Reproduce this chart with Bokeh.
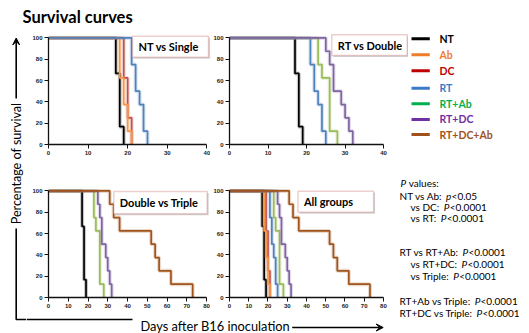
import math
import os
import subprocess
from bokeh.plotting import figure
from bokeh.models import Range1d, BoxAnnotation, Label, FixedTicker, Arrow, VeeHead
from bokeh.layouts import row, column
from bokeh.core.properties import value
from bokeh.embed import file_html
from bokeh.resources import INLINE

# ------------------------------------------------------------------ data
groups = ["NT", "Ab", "DC", "RT", "RT+Ab", "RT+DC", "RT+DC+Ab"]
nt_days = [0, 17, 18, 19]
nt_surv = [100, 66.7, 16.7, 0]
ab_days = [0, 18, 19, 20, 21]
ab_surv = [100, 62.5, 37.5, 12.5, 0]
dc_days = [0, 19, 20, 21]
dc_surv = [100, 62.5, 25, 0]
rt_days = [0, 21, 22, 23, 24, 25]
rt_surv = [100, 75, 50, 37.5, 12.5, 0]
rtab_days = [0, 23, 24, 26, 28]
rtab_surv = [100, 75, 62.5, 12.5, 0]
rtdc_days = [0, 25, 26, 27, 29, 30, 31, 32]
rtdc_surv = [100, 87.5, 75, 50, 37.5, 25, 12.5, 0]
triple_days = [0, 31, 33, 36, 52, 54, 56, 62, 73]
triple_surv = [100, 87.5, 75, 62.5, 50, 37.5, 25, 12.5, 0]

panel_titles = ["NT vs Single", "RT vs Double", "Double vs Triple", "All groups"]
panel_members = [["NT", "DC", "Ab", "RT"],
                 ["NT", "RT", "RT+Ab", "RT+DC"],
                 ["NT", "RT+Ab", "RT+DC", "RT+DC+Ab"],
                 ["NT", "DC", "Ab", "RT", "RT+Ab", "RT+DC", "RT+DC+Ab"]]
y_ticks = [0, 20, 40, 60, 80, 100]
x_ticks_40 = [0, 10, 20, 30, 40]
x_ticks_80 = [0, 10, 20, 30, 40, 50, 60, 70, 80]

title_text = "Survival curves"
y_title = "Percentage of survival"
x_title = "Days after B16 inoculation"
pv_header = "values:"
pv_prefix = ["NT vs Ab:", "vs DC:", "vs RT:", "RT vs RT+Ab:", "vs RT+DC:",
             "vs Triple:", "RT+Ab vs Triple:", "RT+DC vs Triple:"]
pv_symbol = ["p", "P", "P", "P", "P", "P", "P", "P"]
pv_value = ["<0.05", "<0.0001", "<0.0001", "<0.0001", "<0.0001",
            "<0.0001", "<0.0001", "<0.0001"]

curves = {"NT": (nt_days, nt_surv), "Ab": (ab_days, ab_surv), "DC": (dc_days, dc_surv),
          "RT": (rt_days, rt_surv), "RT+Ab": (rtab_days, rtab_surv),
          "RT+DC": (rtdc_days, rtdc_surv), "RT+DC+Ab": (triple_days, triple_surv)}

# ------------------------------------------------------------------ styles
line_col = {"NT": "#000000", "Ab": "#F79646", "DC": "#C0504D", "RT": "#4F81BD",
            "RT+Ab": "#9BBB59", "RT+DC": "#8064A2", "RT+DC+Ab": "#A0541C"}
legend_col = {"NT": "#000000", "Ab": "#EE7D2B", "DC": "#C00000", "RT": "#3A7BC8",
              "RT+Ab": "#00B050", "RT+DC": "#7030A0", "RT+DC+Ab": "#A0521C"}
FONT = "Lato"
TICK_FONT = "Liberation Sans"
BOX_LINE = "#C25F5C"

YPPU = 1.066  # px per percent

# layout (px)
TOP_H = 30
LEFT_W = 26
ROW1_H = 138
ROW2_H = 143
BOTTOM_H = 22
P1_W, P2_W, LEG_W = 184, 198, 121
P3_W, P4_W, PV_W = 184, 186, 133
TOTAL_W = LEFT_W + P1_W + P2_W + LEG_W
MID_H = ROW1_H + ROW2_H + BOTTOM_H


# ---- text width measurement (for placing the italic P after each prefix)
def _font_file(family, style):
    try:
        out = subprocess.run(["fc-match", "-f", "%{file}", f"{family}:style={style}"],
                             capture_output=True, text=True, timeout=5).stdout.strip()
        if out and os.path.exists(out):
            return out
    except Exception:
        pass
    return None


def make_measure(family, style, size, fallback_em):
    try:
        from PIL import ImageFont
        path = _font_file(family, style)
        if path:
            f = ImageFont.truetype(path, 100)
            return lambda s: f.getlength(s) * size / 100.0
    except Exception:
        pass
    return lambda s: len(s) * fallback_em * size


def deco_fig(w, h):
    f = figure(width=w, height=h, x_range=Range1d(0, w), y_range=Range1d(h, 0),
               x_axis_type=None, y_axis_type=None, output_backend="svg",
               toolbar_location=None, min_border=0)
    f.min_border_left = 0
    f.min_border_right = 0
    f.min_border_top = 0
    f.min_border_bottom = 0
    f.outline_line_color = None
    f.background_fill_color = None
    f.border_fill_color = None
    return f


def panel_fig(idx, w, h, bl, bb, xppu, xmax, xticks, origin_s, box_s):
    fw, fh = w - bl, h - bb
    p = figure(width=w, height=h, x_range=Range1d(0, fw / xppu), y_range=Range1d(0, fh / YPPU),
               output_backend="svg", toolbar_location=None,
               min_border_left=bl, min_border_right=0, min_border_top=0, min_border_bottom=bb)
    p.outline_line_color = None
    p.background_fill_color = None
    p.border_fill_color = None
    p.grid.visible = False
    p.xaxis.ticker = FixedTicker(ticks=xticks)
    p.yaxis.ticker = FixedTicker(ticks=y_ticks)
    p.xaxis.bounds = (0, xmax)
    p.yaxis.bounds = (0, 100)
    for ax in (p.xaxis[0], p.yaxis[0]):
        ax.axis_line_color = "#111111"
        ax.axis_line_width = 1.3
        ax.major_tick_line_color = "#111111"
        ax.major_tick_line_width = 1
        ax.major_tick_out = 4
        ax.major_tick_in = 0
        ax.minor_tick_line_color = None
        ax.major_label_text_font = TICK_FONT
        ax.major_label_text_font_size = "6px"
        ax.major_label_text_font_style = "bold"
        ax.major_label_text_color = "#222222"
        ax.major_label_standoff = 2
    for g in panel_members[idx]:
        d, s = curves[g]
        p.step(d, s, mode="after", line_color=line_col[g], line_width=4, line_alpha=0.22)
        p.step(d, s, mode="after", line_color=line_col[g], line_width=1.7)
    # label box (reference pixels -> data)
    ox, oy = origin_s
    l, r, t, b = box_s
    to_x = lambda sx: (sx - ox) / xppu
    to_y = lambda sy: (oy - sy) / YPPU
    p.add_layout(BoxAnnotation(left=to_x(l + 1.5), right=to_x(r + 1.5), top=to_y(t + 1.5),
                               bottom=to_y(b + 1.5), fill_color="#888888", fill_alpha=0.35,
                               line_color=None))
    p.add_layout(BoxAnnotation(left=to_x(l), right=to_x(r), top=to_y(t), bottom=to_y(b),
                               fill_color="white", fill_alpha=1, line_color=BOX_LINE,
                               line_width=1.5))
    p.add_layout(Label(x=to_x(l), y=to_y((t + b) / 2), x_offset=6, text=panel_titles[idx],
                       text_font=FONT, text_font_style="bold", text_font_size="11px",
                       text_baseline="middle", text_align="left", text_color="black"))
    return p


p1 = panel_fig(0, P1_W, ROW1_H, 22, 24, 3.96, 40, x_ticks_40, (48, 144), (132, 208, 35.7, 56.7))
p2 = panel_fig(1, P2_W, ROW1_H, 16, 24, 3.9175, 40, x_ticks_40, (226, 144), (330, 406.7, 34.3, 55))
p3 = panel_fig(2, P3_W, ROW2_H, 22, 14, 1.975, 80, x_ticks_80, (48, 297), (113.3, 206.7, 191, 213.3))
p4 = panel_fig(3, P4_W, ROW2_H, 16, 14, 1.959, 80, x_ticks_80, (226, 297), (295.7, 372.7, 190.7, 211.7))

# ------------------------------------------------------------------ decorations
top = deco_fig(TOTAL_W, TOP_H)
top.text(x=[22], y=[16.7], text=[title_text], text_font=value(FONT), text_font_style="bold",
         text_font_size="16.5px", text_baseline="middle", text_align="left", text_color="black")

left = deco_fig(LEFT_W, MID_H)
left.add_layout(Arrow(x_start=15.7, y_start=68, x_end=15.7, y_end=7.5, line_width=1.6,
                      end=VeeHead(size=7, fill_color="black", line_color="black", line_width=1)))
left.text(x=[16.2], y=[133], text=[y_title], angle=math.pi / 2, text_font=value(FONT),
          text_font_size="12.6px", text_align="center", text_baseline="middle", text_color="black")
left.line(x=[15.7, 15.7, LEFT_W], y=[198, 289, 289], line_color="black", line_width=1.6)

leg = deco_fig(LEG_W, ROW1_H)
leg_y = [10, 29.3, 48.7, 70, 88.7, 107.7, 126]
for g, yy in zip(groups, leg_y):
    leg.line(x=[3, 21.3], y=[yy, yy], line_color=legend_col[g], line_width=3)
leg.text(x=[31] * len(groups), y=leg_y, text=groups, text_font=value(FONT), text_font_style="bold",
         text_font_size="10.5px", text_baseline="middle", text_align="left",
         text_color=[legend_col[g] for g in groups])

PV_SIZE = 10
pv_fs = f"{PV_SIZE}px"
w_reg = make_measure(FONT, "Regular", PV_SIZE, 0.5)
w_ita = make_measure(FONT, "Italic", PV_SIZE, 0.5)
GAP = 4.5

pv = deco_fig(PV_W, ROW2_H + BOTTOM_H)
pv.text(x=[4], y=[14], text=["P"], text_font=value(FONT), text_font_style="italic",
        text_font_size=pv_fs, text_baseline="middle", text_color="black")
pv.text(x=[4 + w_ita("P") + w_reg(" ")], y=[14], text=[pv_header], text_font=value(FONT),
        text_font_size=pv_fs, text_baseline="middle", text_color="black")
pv_x = [3, 14, 14, 3, 14, 14, 3, 3]
pv_y = [27, 38.7, 49.3, 83.7, 95.3, 107, 132.7, 144.7]
pv_sx = [x0 + w_reg(t) + GAP for x0, t in zip(pv_x, pv_prefix)]
pv_vx = [sx + w_ita(s) + 0.3 for sx, s in zip(pv_sx, pv_symbol)]
pv.text(x=pv_x, y=pv_y, text=pv_prefix, text_font=value(FONT), text_font_size=pv_fs,
        text_baseline="middle", text_color="black")
pv.text(x=pv_sx, y=pv_y, text=pv_symbol, text_font=value(FONT), text_font_style="italic",
        text_font_size=pv_fs, text_baseline="middle", text_color="black")
pv.text(x=pv_vx, y=pv_y, text=pv_value, text_font=value(FONT),
        text_font_size=pv_fs, text_baseline="middle", text_color="black")

bottom = deco_fig(P3_W + P4_W, BOTTOM_H)
bottom.line(x=[0, 106], y=[8, 8], line_color="black", line_width=1.6)
bottom.text(x=[114], y=[14], text=[x_title], text_font=value(FONT), text_font_size="12.8px",
            text_baseline="middle", text_align="left", text_color="black")
bottom.add_layout(Arrow(x_start=265.7, y_start=16, x_end=356.7, y_end=16, line_width=1.6,
                        end=VeeHead(size=7, fill_color="black", line_color="black", line_width=1)))

layout = column(top,
                row(left,
                    column(row(p1, p2, leg),
                           row(column(row(p3, p4), bottom), pv))))

open("out.html", "w").write(file_html(layout, INLINE))
